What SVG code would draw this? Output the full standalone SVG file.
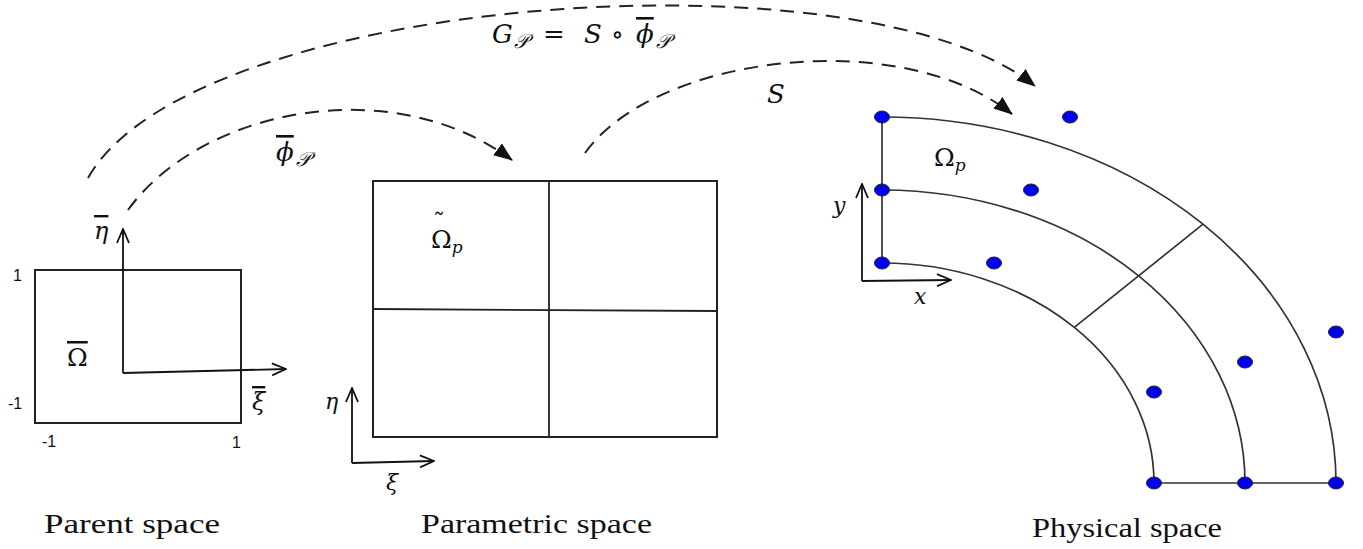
<svg xmlns="http://www.w3.org/2000/svg" width="1363" height="549" viewBox="0 0 1363 549">
<style>
.frame{fill:none;stroke:#222;stroke-width:2}
.grid{fill:none;stroke:#222;stroke-width:1.8}
.arc{fill:none;stroke:#333;stroke-width:1.7}
.axis{fill:none;stroke:#111;stroke-width:1.8}
.map{fill:none;stroke:#222;stroke-width:2;stroke-dasharray:14 9}
.cp{fill:#0000f0;stroke:#222;stroke-width:1}
.m{font-family:"DejaVu Serif","Liberation Serif",serif;font-style:italic;fill:#111}
.up{font-family:"DejaVu Serif","Liberation Serif",serif;font-style:normal;fill:#111}
.sub{font-style:italic}
.num{font-family:"Liberation Sans",Arial,sans-serif;font-size:16px;fill:#111}
.cap{font-family:"Liberation Serif","DejaVu Serif",serif;font-size:28px;fill:#111}
.ov{text-decoration:overline}
</style>
<defs>
<marker id="open" viewBox="0 0 16 14" refX="15" refY="7" markerWidth="16" markerHeight="14" markerUnits="userSpaceOnUse" orient="auto">
<path d="M1,1 L15,7 L1,13" fill="none" stroke="#111" stroke-width="1.8"/>
</marker>
<marker id="tri" viewBox="0 0 18 14" refX="17" refY="7" markerWidth="19" markerHeight="15" markerUnits="userSpaceOnUse" orient="auto">
<path d="M0,0 L18,7 L0,14 Z" fill="#111"/>
</marker>
</defs>

<g id="parent-space">
<rect class="frame" x="35" y="270" width="206" height="153"/>
<line class="axis" x1="123" y1="373" x2="123" y2="229" marker-end="url(#open)"/>
<line class="axis" x1="123" y1="373" x2="286" y2="369" marker-end="url(#open)"/>
<text class="m ov" x="94" y="239" font-size="24">η</text>
<text class="m ov" x="252" y="410" font-size="24">ξ</text>
<text class="up ov" x="67" y="366" font-size="25">Ω</text>
<text class="num" x="13" y="281">1</text>
<text class="num" x="8" y="409">-1</text>
<text class="num" x="42" y="447">-1</text>
<text class="num" x="232" y="448">1</text>
<text class="cap" x="44" y="533" textLength="176" lengthAdjust="spacingAndGlyphs">Parent space</text>
</g>

<g id="parametric-space">
<rect class="frame" x="373" y="181" width="344" height="256"/>
<line class="grid" x1="549" y1="181" x2="549" y2="437"/>
<line class="grid" x1="373" y1="309" x2="717" y2="311"/>
<line class="axis" x1="352" y1="463" x2="352" y2="388" marker-end="url(#open)"/>
<line class="axis" x1="352" y1="463" x2="434" y2="461" marker-end="url(#open)"/>
<text class="up" x="433" y="231" font-size="24">˜<tspan x="431" dy="17" font-size="25">Ω</tspan><tspan class="sub" font-size="17" dy="5">p</tspan></text>
<text class="m" x="325" y="409" font-size="22">η</text>
<text class="m" x="386" y="490" font-size="22">ξ</text>
<text class="cap" x="421" y="533" textLength="231" lengthAdjust="spacingAndGlyphs">Parametric space</text>
</g>

<g id="physical-space">
<path class="arc" d="M882,263 A272,220 0 0 1 1154,483"/>
<path class="arc" d="M882,190 A363,293 0 0 1 1245,483"/>
<path class="arc" d="M882,117 A454,366 0 0 1 1336,483"/>
<path class="arc" d="M882,117 V263 M1154,483 H1336 M1074.3,327.4 L1203,224.2"/>
<line class="axis" x1="862" y1="281" x2="862" y2="184" marker-end="url(#open)"/>
<line class="axis" x1="862" y1="281" x2="951" y2="280" marker-end="url(#open)"/>
<text class="m" x="833" y="213" font-size="22">y</text>
<text class="m" x="914" y="304" font-size="22">x</text>
<text class="up" x="934" y="166" font-size="25">Ω<tspan class="sub" font-size="17" dy="5">p</tspan></text>
<ellipse class="cp" cx="882" cy="117" rx="7.5" ry="6"/>
<ellipse class="cp" cx="882" cy="190" rx="7.5" ry="6"/>
<ellipse class="cp" cx="882" cy="263" rx="7.5" ry="6"/>
<ellipse class="cp" cx="1070" cy="117" rx="7.5" ry="6"/>
<ellipse class="cp" cx="1031" cy="190" rx="7.5" ry="6"/>
<ellipse class="cp" cx="994" cy="263" rx="7.5" ry="6"/>
<ellipse class="cp" cx="1154" cy="392" rx="7.5" ry="6"/>
<ellipse class="cp" cx="1245" cy="362" rx="7.5" ry="6"/>
<ellipse class="cp" cx="1336" cy="332" rx="7.5" ry="6"/>
<ellipse class="cp" cx="1154" cy="483" rx="7.5" ry="6"/>
<ellipse class="cp" cx="1245" cy="483" rx="7.5" ry="6"/>
<ellipse class="cp" cx="1336" cy="483" rx="7.5" ry="6"/>
<text class="cap" x="1032" y="537" textLength="190" lengthAdjust="spacingAndGlyphs">Physical space</text>
</g>

<g id="connectors">
<path id="map-G" class="map" d="M88,178 C190,-4 860,-54 1035,86" marker-end="url(#tri)"/>
<path id="map-phi" class="map" d="M128,210 C200,110 390,70 512,160" marker-end="url(#tri)"/>
<path id="map-S" class="map" d="M585,153 C655,55 900,25 1012,114" marker-end="url(#tri)"/>
</g>

<g id="map-labels">
<text class="m" y="43" font-size="26"><tspan x="492">G</tspan><tspan class="sub" x="514" dy="5" font-size="20">𝒫</tspan><tspan class="up" x="543" dy="-5">=</tspan><tspan x="584">S</tspan><tspan class="up" x="611">∘</tspan><tspan x="636" class="ov">ϕ</tspan><tspan class="sub" x="656" dy="5" font-size="20">𝒫</tspan></text>
<text class="m" y="161" font-size="26"><tspan x="276" class="ov">ϕ</tspan><tspan class="sub" x="296" dy="5" font-size="20">𝒫</tspan></text>
<text class="m" x="767" y="103" font-size="26">S</text>
</g>
</svg>
